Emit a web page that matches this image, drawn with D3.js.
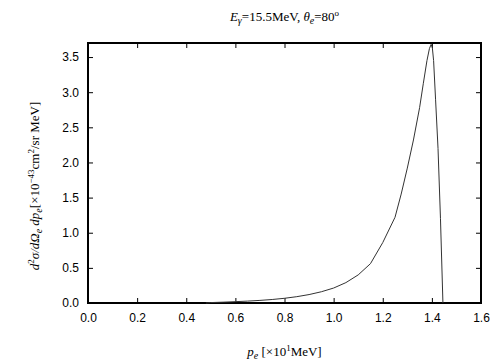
<!DOCTYPE html>
<html>
<head>
<meta charset="utf-8">
<script src="https://cdn.jsdelivr.net/npm/d3@7"></script>
<style>
  body { margin: 0; background: #fff; }
  .tick text { font-family: "Liberation Sans", Arial, sans-serif; font-size: 12px; }
  .lbl { font-family: "Liberation Serif", "Times New Roman", serif; font-size: 13px; }
</style>
</head>
<body>
<svg id="chart" width="504" height="360"></svg>
<script>
// momentum p_e [x10 MeV] and cross section [x10^-43 cm^2/sr MeV]
var pe = [0.48, 0.5, 0.55, 0.6, 0.65, 0.7, 0.75, 0.8, 0.85, 0.9, 0.95, 1.0, 1.05, 1.1, 1.15, 1.2,
          1.25, 1.275, 1.3, 1.325, 1.35, 1.365, 1.38, 1.39, 1.397, 1.402, 1.407, 1.415, 1.425, 1.435, 1.445];
var sigma = [0.0, 0.006, 0.012, 0.019, 0.027, 0.037, 0.05, 0.067, 0.09, 0.12, 0.16, 0.213, 0.29, 0.40, 0.56, 0.86,
             1.22, 1.55, 1.92, 2.32, 2.78, 3.12, 3.45, 3.62, 3.68, 3.63, 3.45, 2.9, 2.2, 1.2, 0.0];
var xTicks = [0, 0.2, 0.4, 0.6, 0.8, 1.0, 1.2, 1.4, 1.6];
var yTicks = [0, 0.5, 1.0, 1.5, 2.0, 2.5, 3.0, 3.5];

var svg = d3.select('#chart');
var margin = { top: 43, right: 23, bottom: 57, left: 88 };
var width = 504 - margin.left - margin.right;
var height = 360 - margin.top - margin.bottom;

var x = d3.scaleLinear().domain([0, 1.6]).range([0, width]);
var y = d3.scaleLinear().domain([0, 3.7]).range([height, 0]);

var g = svg.append('g')
    .attr('transform', 'translate(' + margin.left + ',' + margin.top + ')');

function styleAxis(sel) {
    sel.select('.domain').remove();
    sel.selectAll('.tick line').attr('stroke', '#000').attr('stroke-width', 1);
}

g.append('g')
    .attr('transform', 'translate(0,' + height + ')')
    .call(d3.axisBottom(x).tickValues(xTicks).tickFormat(d3.format('.1f')).tickSize(-5).tickPadding(10))
    .call(styleAxis);
g.append('g')
    .call(d3.axisTop(x).tickValues(xTicks).tickFormat('').tickSize(-5))
    .call(styleAxis);
g.append('g')
    .call(d3.axisLeft(y).tickValues(yTicks).tickFormat(d3.format('.1f')).tickSize(-5).tickPadding(9))
    .call(styleAxis);
g.append('g')
    .attr('transform', 'translate(' + width + ',0)')
    .call(d3.axisRight(y).tickValues(yTicks).tickFormat('').tickSize(-5))
    .call(styleAxis);

g.selectAll('.tick text').attr('fill', '#000');

g.append('rect')
    .attr('width', width)
    .attr('height', height)
    .attr('fill', 'none')
    .attr('stroke', '#000')
    .attr('stroke-width', 2);

var line = d3.line()
    .x(function (d, i) { return x(pe[i]); })
    .y(function (d) { return y(d); });

g.append('path')
    .datum(sigma)
    .attr('d', line)
    .attr('fill', 'none')
    .attr('stroke', '#333')
    .attr('stroke-width', 1);

// title
var t = svg.append('text').attr('class', 'lbl')
    .attr('x', margin.left + width / 2).attr('y', 21).attr('text-anchor', 'middle');
t.append('tspan').attr('font-style', 'italic').text('E');
t.append('tspan').attr('font-style', 'italic').attr('font-size', 10).attr('dy', 3).text('γ');
t.append('tspan').attr('dy', -3).text('=15.5MeV,  ');
t.append('tspan').attr('font-style', 'italic').text('θ');
t.append('tspan').attr('font-style', 'italic').attr('font-size', 10).attr('dy', 3).text('e');
t.append('tspan').attr('dy', -3).text('=80');
t.append('tspan').attr('font-size', 9).attr('dy', -5).text('o');

// x label
var xl = svg.append('text').attr('class', 'lbl')
    .attr('x', margin.left + width / 2).attr('y', 356).attr('text-anchor', 'middle');
xl.append('tspan').attr('font-style', 'italic').text('p');
xl.append('tspan').attr('font-style', 'italic').attr('font-size', 10).attr('dy', 3).text('e');
xl.append('tspan').attr('dy', -3).text(' [×10');
xl.append('tspan').attr('font-size', 9).attr('dy', -5).text('1');
xl.append('tspan').attr('dy', 5).text('MeV]');

// y label
var yl = svg.append('text').attr('class', 'lbl')
    .attr('transform', 'translate(39,186) rotate(-90)').attr('text-anchor', 'middle');
yl.append('tspan').attr('font-style', 'italic').text('d');
yl.append('tspan').attr('font-size', 9).attr('dy', -5).text('2');
yl.append('tspan').attr('font-style', 'italic').attr('dy', 5).text('σ/dΩ');
yl.append('tspan').attr('font-style', 'italic').attr('font-size', 10).attr('dy', 3).text('e');
yl.append('tspan').attr('font-style', 'italic').attr('dy', -3).text(' dp');
yl.append('tspan').attr('font-style', 'italic').attr('font-size', 10).attr('dy', 3).text('e');
yl.append('tspan').attr('dy', -3).text('[×10');
yl.append('tspan').attr('font-size', 9).attr('dy', -5).text('−43');
yl.append('tspan').attr('dy', 5).text('cm');
yl.append('tspan').attr('font-size', 9).attr('dy', -5).text('2');
yl.append('tspan').attr('dy', 5).text('/sr MeV]');
</script>
</body>
</html>
